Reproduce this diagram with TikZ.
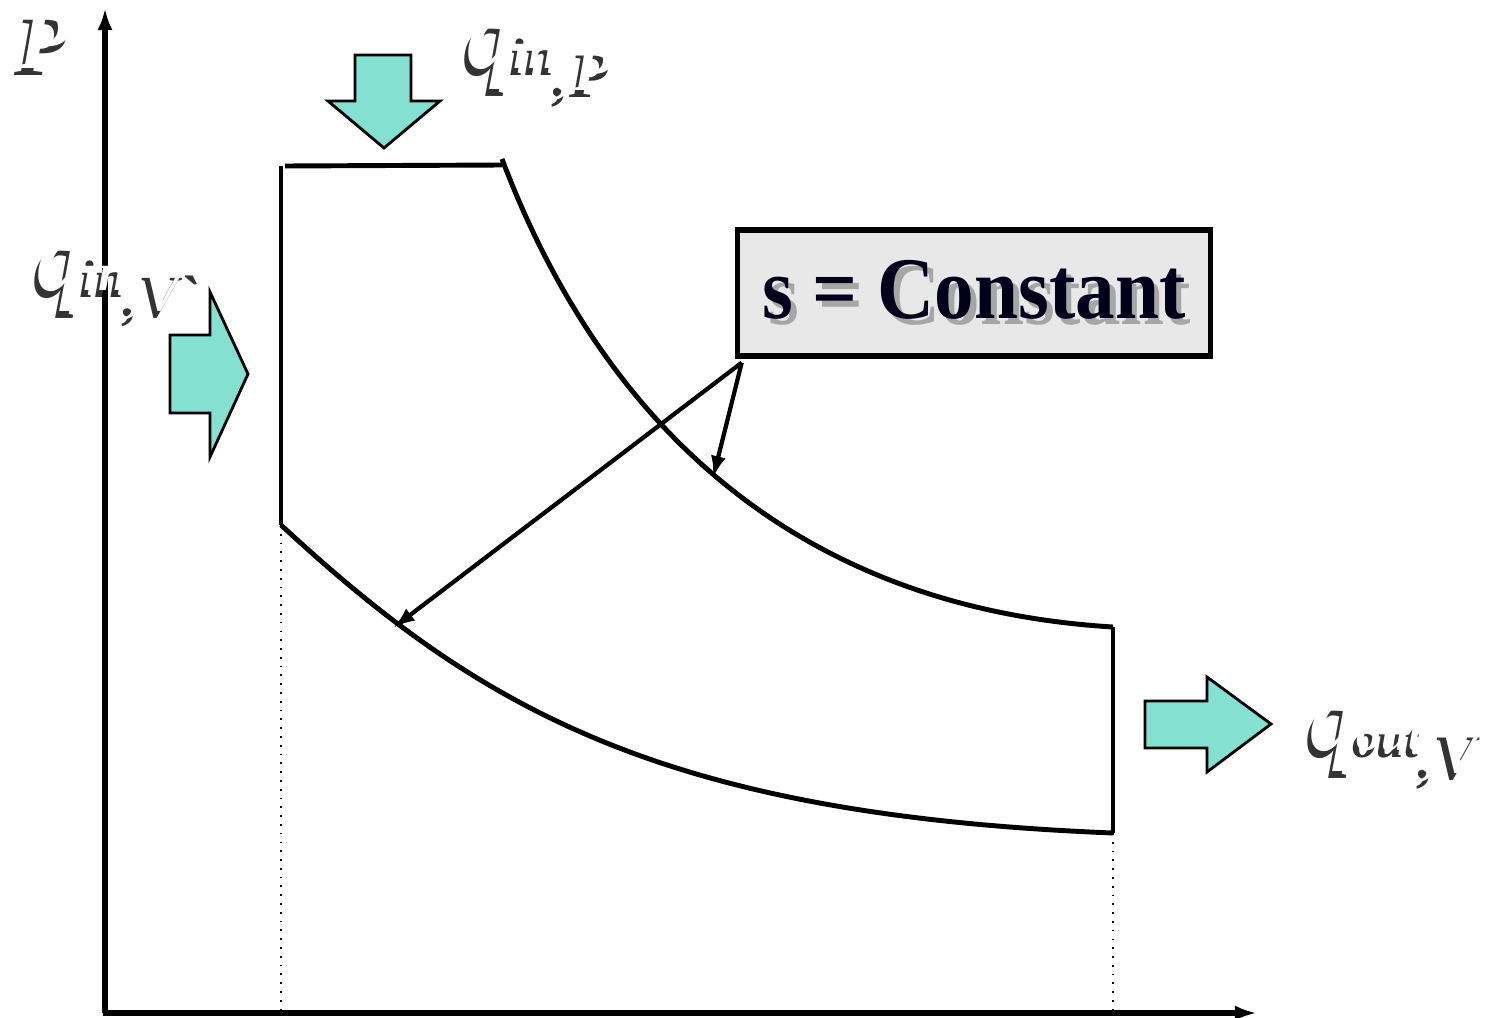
\documentclass[tikz,border=0pt]{standalone}
\usepackage{fontspec}
\setmainfont{Liberation Serif}
\newfontfamily\boxfont[FakeStretch=0.9]{Liberation Serif}
\usepackage{tikz}
\usetikzlibrary{arrows.meta}
\definecolor{heat}{RGB}{132,224,208}
\definecolor{boxgray}{RGB}{232,232,232}
\definecolor{ink}{RGB}{0,0,26}
% white letters with a dark shadow
\newcommand{\shd}[1]{\makebox[0pt][l]{\hspace{-1.3pt}\raisebox{-2pt}{\color{black!80}#1}}{\color{white}#1}}
\newcommand{\bshd}[1]{\makebox[0pt][l]{\hspace{1.6pt}\raisebox{-1.8pt}{\color{black!35}#1}}{\color{ink}#1}}
\newcommand{\fs}[1]{\fontsize{#1}{#1}\selectfont}

\begin{document}
\begin{tikzpicture}[x=0.01cm,y=-0.01cm]
          \tikzstyle{axis}=[draw,line width = 1.5pt,-{Latex[length=0.22cm,width=0.15cm]}]
          \tikzstyle{cyc}=[draw,line width = 1.4pt]
          \tikzstyle{guide}=[draw,line width = .5pt,dotted]
          \tikzstyle{ptr}=[draw,line width = 1.2pt,-{Latex[length=0.22cm,width=0.15cm]}]
          \tikzstyle{heatarrow}=[fill=heat,draw=black,line width = .8pt]
          \tikzstyle{lbl}=[anchor=base west,inner sep=0pt,font=\bfseries\itshape]
          \tikzstyle{num}=[text=white,font=\bfseries\fs{26}]
          \useasboundingbox (0,0) rectangle (1490,1018);
          % axes
          \coordinate (O) at (105,1013);
          \coordinate (ytop) at (105,8);
          \coordinate (xend) at (1257,1013);
          \draw[axis] (O) -- (ytop);
          \draw[axis] ([xshift=-0.02cm]O) -- (xend);
          % states
          \coordinate (p1) at (1113,833);
          \coordinate (p2) at (281,525);
          \coordinate (p3) at (281,166);
          \coordinate (p4) at (502,165);
          \coordinate (p5) at (1113,627);
          \foreach \n/\x/\y in {3/233/152,4/575/150,2/235/572,5/1182/605,1/1185/829}{
            \node[num] (n\n) at (\x,\y) {\n};
            }
          \draw[cyc] (p2) -- (p3);
          \draw[cyc] ([xshift=0.04cm]p3) -- (p4);
          \draw[cyc] ([yshift=0.06cm]p4) .. controls (597,410) and (783,607) .. (p5);
          \draw[cyc] (p5) -- (p1);
          \draw[cyc] (p2) .. controls (481,710) and (663,815) .. (p1);
          \foreach \p in {p1,p2}{
            \draw[guide] (\p) -- (\p |- O);
            }
          % heat arrows
          \filldraw[heatarrow] (355,55) -- (411,55) -- (411,101) -- (440,101) -- (384,148) -- (328,101) -- (355,101) -- cycle;
          \filldraw[heatarrow] (170,335) -- (210,335) -- (210,292) -- (248,374) -- (210,457) -- (210,413) -- (170,413) -- cycle;
          \filldraw[heatarrow] (1145,701) -- (1207,701) -- (1207,677) -- (1271,724) -- (1207,772) -- (1207,748) -- (1145,748) -- cycle;
          % labels
          \node[lbl] (Plbl) at (18,68) {\shd{\fs{24}P}};
          \node[lbl] (qinP) at (467,68) {\shd{\fs{28}q\kern-0.03cm{\fs{15}in}\raisebox{-0.22cm}{\fs{18},P}}};
          \node[lbl] (qinV) at (37,290) {\shd{\fs{28}q\kern-0.03cm{\fs{15}in}\raisebox{-0.2cm}{\fs{17},V\textasciigrave}}};
          \node[lbl] (qoutV) at (1310,750) {\shd{\fs{28}q\kern-0.03cm{\fs{14}out}\raisebox{-0.22cm}{\fs{18},V}}};
          % isentrope box
          \node[draw,line width = 1.5pt,fill=boxgray,minimum width=4.73cm,minimum height=1.26cm,inner sep=0pt,font=\boxfont\bfseries\fs{25}] (sbox) at (974,293) {\bshd{s = Constant}};
          \coordinate (t1) at (713,478);
          \coordinate (t2) at (393,628);
          \draw[ptr] ([xshift=0.07cm,yshift=-0.04cm]sbox.south west) -- (t1);
          \draw[ptr] ([xshift=0.07cm,yshift=-0.04cm]sbox.south west) -- (t2);
        \end{tikzpicture}
\end{document}
